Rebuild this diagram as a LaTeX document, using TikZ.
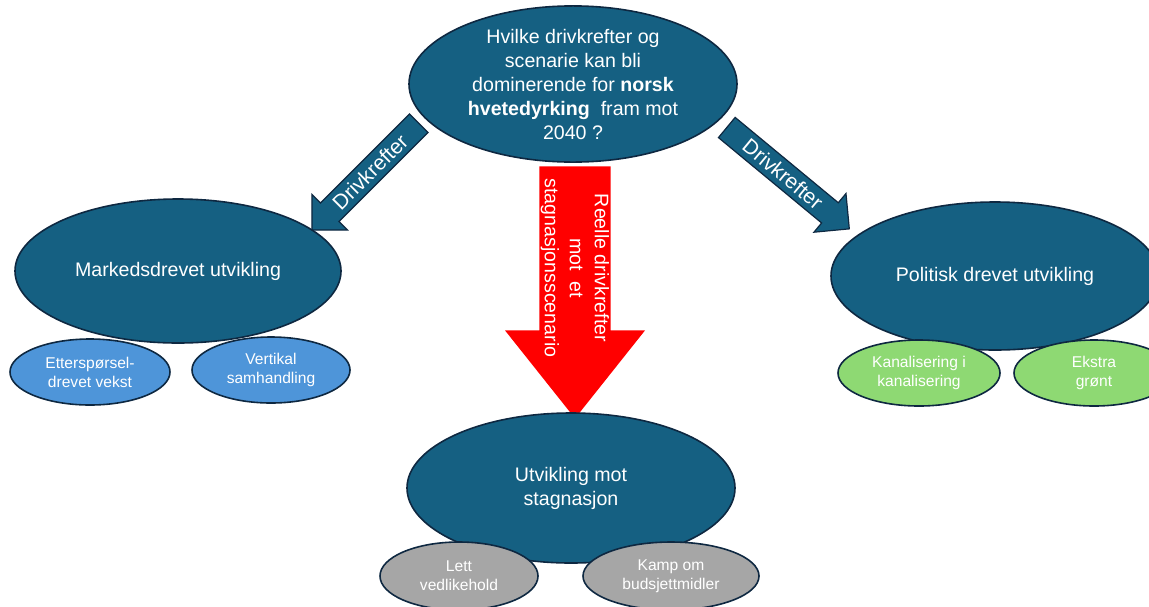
\documentclass[tikz,border=0pt]{standalone}
\usepackage{fontspec}
\setmainfont{Liberation Sans}
\usetikzlibrary{shapes.geometric,shapes.arrows}
\definecolor{petrol}{HTML}{156082}
\definecolor{rim}{HTML}{0E2841}
\definecolor{lblue}{HTML}{4E95D9}
\definecolor{lgreen}{HTML}{8ED973}
\definecolor{lgray}{HTML}{A6A6A6}
\begin{document}
\begin{tikzpicture}[x=0.5pt,y=-0.5pt,
  big/.style={ellipse,draw=rim,line width=0.8pt,fill=petrol,text=white,inner sep=0pt,align=center,font=\fontsize{9.8}{12}\selectfont},
  small/.style={ellipse,draw=rim,line width=0.8pt,text=white,inner sep=0pt,align=center,minimum height=33pt,font=\fontsize{7.8}{9.5}\selectfont},
  drive/.style={single arrow,draw=rim,line width=0.6pt,fill=petrol,text=white,inner xsep=0pt,inner ysep=2.5pt,text height=7.5pt,text depth=0pt,minimum width=24pt,single arrow head extend=6pt,single arrow tip angle=90,font=\fontsize{10.5}{12}\selectfont}]
\useasboundingbox (0,0) rectangle (1149,606);
% arrows
\node [drive,rotate=45,shape border rotate=180,minimum height=75.5pt] (dleft) at (370,172) {Drivkrefter};
\node [drive,rotate=-39.6,minimum height=79.5pt] (dright) at (783,174) {Drivkrefter};
\node [single arrow,fill=red,rotate=-90,anchor=tail,inner xsep=0pt,inner ysep=17.5pt,minimum height=126pt,minimum width=70pt,single arrow head extend=17pt,single arrow tip angle=77] (stag) at (575,166) {};
\node [rotate=-90,text=white,align=center,font=\fontsize{9.8}{12.5}\selectfont] (stagtxt) at (575,268) {Reelle drivkrefter\\mot~~et\\stagnasjonsscenario};
% main ellipses
\node [big,minimum width=164pt,minimum height=77pt] (q) at (573,84) {Hvilke drivkrefter og\\scenarie kan bli\\dominerende for \textbf{norsk}\\\textbf{hvetedyrking}~~fram mot\\2040 ?};
\node [big,minimum width=163pt,minimum height=72pt] (mark) at (178,271) {Markedsdrevet utvikling};
\node [big,minimum width=164pt,minimum height=74pt] (pol) at (995,276) {Politisk drevet utvikling};
\node [big,minimum width=164pt,minimum height=75pt] (utv) at (571,488) {Utvikling mot\\stagnasjon};
% sub ellipses
\node [small,fill=lblue,minimum width=80pt] (etter) at (90,372) {Etterspørsel-\\drevet vekst};
\node [small,fill=lblue,minimum width=79pt] (vert) at (271,370) {Vertikal\\samhandling};
\node [small,fill=lgreen,minimum width=81pt] (kanal) at (919,373) {Kanalisering i\\kanalisering};
\node [small,fill=lgreen,minimum width=80pt] (ekstra) at (1094,373) {Ekstra\\grønt};
\node [small,fill=lgray,minimum width=79pt,minimum height=34pt] (lett) at (459,576) {Lett\\vedlikehold};
\node [small,fill=lgray,minimum width=88pt,minimum height=34pt] (kamp) at (671,576) {Kamp om\\budsjettmidler};
\end{tikzpicture}
\end{document}
